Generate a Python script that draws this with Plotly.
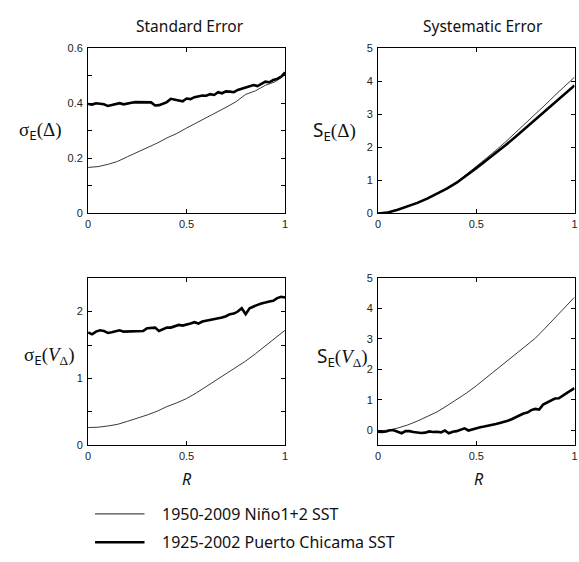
import plotly.graph_objects as go

W, H = 579, 562

# ---------------- data ----------------
series_names = ["1950-2009 Niño1+2 SST", "1925-2002 Puerto Chicama SST"]
panel_titles = ["Standard Error", "Systematic Error"]

# thin curves sampled every 0.05 in R, thick curves every 0.02 in R
sd_delta_nino = [0.167, 0.170, 0.178, 0.189, 0.206, 0.222, 0.238, 0.255, 0.274, 0.290,
                 0.310, 0.328, 0.348, 0.366, 0.385, 0.405, 0.432, 0.445, 0.465, 0.478, 0.503]
sd_delta_pc = [0.397, 0.395, 0.400, 0.398, 0.396, 0.390, 0.394, 0.398, 0.400, 0.396,
               0.400, 0.402, 0.404, 0.404, 0.405, 0.405, 0.403, 0.392, 0.393, 0.398,
               0.404, 0.416, 0.413, 0.410, 0.407, 0.417, 0.415, 0.422, 0.425, 0.428,
               0.427, 0.433, 0.430, 0.440, 0.436, 0.443, 0.442, 0.440, 0.448, 0.452,
               0.456, 0.460, 0.466, 0.462, 0.470, 0.478, 0.476, 0.484, 0.488, 0.496, 0.512]

se_delta_nino = [0.02, 0.04, 0.12, 0.22, 0.33, 0.46, 0.60, 0.77, 0.95, 1.18,
                 1.42, 1.66, 1.91, 2.17, 2.44, 2.72, 3.00, 3.28, 3.57, 3.84, 4.12]
se_delta_pc = [0.00, 0.03, 0.11, 0.21, 0.32, 0.45, 0.59, 0.75, 0.93, 1.14,
               1.37, 1.60, 1.83, 2.07, 2.32, 2.58, 2.84, 3.10, 3.35, 3.61, 3.87]

sd_v_nino = [0.267, 0.272, 0.290, 0.315, 0.360, 0.405, 0.455, 0.510, 0.580, 0.635,
             0.700, 0.785, 0.880, 0.965, 1.060, 1.160, 1.260, 1.370, 1.490, 1.600, 1.720]
sd_v_pc = [1.69, 1.66, 1.70, 1.72, 1.71, 1.68, 1.69, 1.71, 1.72, 1.70,
           1.70, 1.70, 1.70, 1.70, 1.71, 1.75, 1.75, 1.76, 1.71, 1.74,
           1.76, 1.76, 1.78, 1.80, 1.79, 1.80, 1.82, 1.84, 1.82, 1.85,
           1.86, 1.87, 1.89, 1.90, 1.91, 1.93, 1.96, 1.97, 2.00, 2.05,
           1.96, 2.05, 2.08, 2.10, 2.12, 2.14, 2.15, 2.16, 2.20, 2.22, 2.21]

se_v_nino = [-0.02, 0.00, 0.07, 0.17, 0.30, 0.45, 0.60, 0.80, 1.00, 1.22,
             1.46, 1.72, 1.98, 2.25, 2.52, 2.76, 3.02, 3.35, 3.70, 4.02, 4.37]
se_v_pc = [-0.05, -0.06, -0.04, 0.00, 0.00, -0.05, -0.10, -0.03, -0.03, -0.06,
           -0.08, -0.09, -0.08, -0.04, -0.06, -0.05, -0.07, -0.01, -0.10, -0.05,
           -0.03, 0.02, 0.06, -0.01, 0.03, 0.07, 0.10, 0.12, 0.14, 0.17,
           0.20, 0.24, 0.27, 0.31, 0.36, 0.42, 0.48, 0.55, 0.58, 0.66,
           0.70, 0.68, 0.84, 0.90, 0.96, 1.04, 1.05, 1.15, 1.22, 1.30, 1.38]


def rgrid(vals):
    n = len(vals)
    return [i / (n - 1) for i in range(n)]


panels = [
    ("x", "y", sd_delta_nino, sd_delta_pc),
    ("x2", "y2", se_delta_nino, se_delta_pc),
    ("x3", "y3", sd_v_nino, sd_v_pc),
    ("x4", "y4", se_v_nino, se_v_pc),
]

fig = go.Figure()
for xa, ya, thin, thick in panels:
    fig.add_trace(go.Scatter(x=rgrid(thin), y=thin, mode="lines", xaxis=xa, yaxis=ya,
                             line=dict(color="#222", width=0.9), showlegend=False,
                             name=series_names[0]))
    fig.add_trace(go.Scatter(x=rgrid(thick), y=thick, mode="lines", xaxis=xa, yaxis=ya,
                             line=dict(color="black", width=2.6), showlegend=False,
                             name=series_names[1]))


def px_x(p):
    return p / W


def px_y(p):
    return 1 - p / H


tickfont = dict(family="Liberation Sans, Arial", size=11, color="#222")

colL = [px_x(86), px_x(285)]
colR = [px_x(379), px_x(577.5)]
rowT = [px_y(212), px_y(43)]
rowB = [px_y(449), px_y(278)]

common_x = dict(range=[0, 1], tickvals=[0, 0.5, 1], ticktext=["0", "0.5", "1"],
                ticks="inside", ticklen=4, showline=True, mirror="ticks",
                linecolor="black", linewidth=1, showgrid=False, zeroline=False,
                tickfont=tickfont, tickcolor="black")
common_y = dict(ticks="inside", ticklen=4, showline=True, mirror="ticks",
                linecolor="black", linewidth=1, showgrid=False, zeroline=False,
                tickfont=tickfont, tickcolor="black", ticklabelstandoff=2)
minor_t = dict(ticks="inside", ticklen=4, tickcolor="black", showgrid=False)

layout = dict(
    width=W, height=H, margin=dict(l=0, r=0, t=0, b=0),
    paper_bgcolor="white", plot_bgcolor="white", showlegend=False,
    xaxis=dict(common_x, domain=colL, anchor="y"),
    xaxis2=dict(common_x, domain=colR, anchor="y2"),
    xaxis3=dict(common_x, domain=colL, anchor="y3"),
    xaxis4=dict(common_x, domain=colR, anchor="y4"),
    yaxis=dict(common_y, domain=rowT, anchor="x", range=[0, 0.6],
               tick0=0, dtick=0.2, minor=dict(minor_t, dtick=0.1)),
    yaxis2=dict(common_y, domain=rowT, anchor="x2", range=[0, 5], dtick=1),
    yaxis3=dict(common_y, domain=rowB, anchor="x3", range=[0, 2.5],
                tick0=0, dtick=1, minor=dict(minor_t, dtick=0.5)),
    yaxis4=dict(common_y, domain=rowB, anchor="x4", range=[-0.5, 5], tickvals=[0, 1, 2, 3, 4, 5]),
)
fig.update_layout(**layout)

title_font = dict(family="Noto Sans, Open Sans", size=15.5, color="#111")
serif = "Liberation Serif, Times New Roman"
sans = "Noto Sans, Liberation Sans"

ann = []
ann.append(dict(text=panel_titles[0], x=px_x(189), y=px_y(20), font=title_font))
ann.append(dict(text=panel_titles[1], x=px_x(485), y=px_y(20), font=title_font))

sig = "<span style='font-family:%s'>σ</span>" % serif
E = "<sub><span style='font-family:%s'>E</span></sub>" % sans
lab_font = dict(family=serif, size=19, color="#111")
ann.append(dict(text=sig + E + "(Δ)", x=px_x(38), y=px_y(128), font=lab_font))
ann.append(dict(text="<span style='font-family:%s'>S</span>" % sans + E + "(Δ)",
                x=px_x(335), y=px_y(128), font=lab_font))
ann.append(dict(text=sig + E + "(<i>V</i><sub>Δ</sub>)", x=px_x(46), y=px_y(358), font=lab_font))
ann.append(dict(text="<span style='font-family:%s'>S</span>" % sans + E + "(<i>V</i><sub>Δ</sub>)",
                x=px_x(343), y=px_y(359), font=lab_font))

rfont = dict(family=sans, size=16, color="#111")
ann.append(dict(text="<i>R</i>", x=px_x(186), y=px_y(483), font=rfont))
ann.append(dict(text="<i>R</i>", x=px_x(481), y=px_y(483), font=rfont))

legfont = dict(family=sans, size=16, color="#111")
leg_y = [519, 548]
leg_w = [0.9, 2.6]
shapes = []
for name, yy, lw in zip(series_names, leg_y, leg_w):
    ann.append(dict(text=name, x=px_x(159), y=px_y(yy), xanchor="left", font=legfont))
    shapes.append(dict(type="line", xref="paper", yref="paper", x0=px_x(93), x1=px_x(143),
                       y0=px_y(yy), y1=px_y(yy), line=dict(color="black", width=lw)))

for a in ann:
    a.setdefault("xanchor", "center")
    a.update(xref="paper", yref="paper", yanchor="middle", showarrow=False)

fig.update_layout(annotations=ann, shapes=shapes)
fig.write_html("out.html")
